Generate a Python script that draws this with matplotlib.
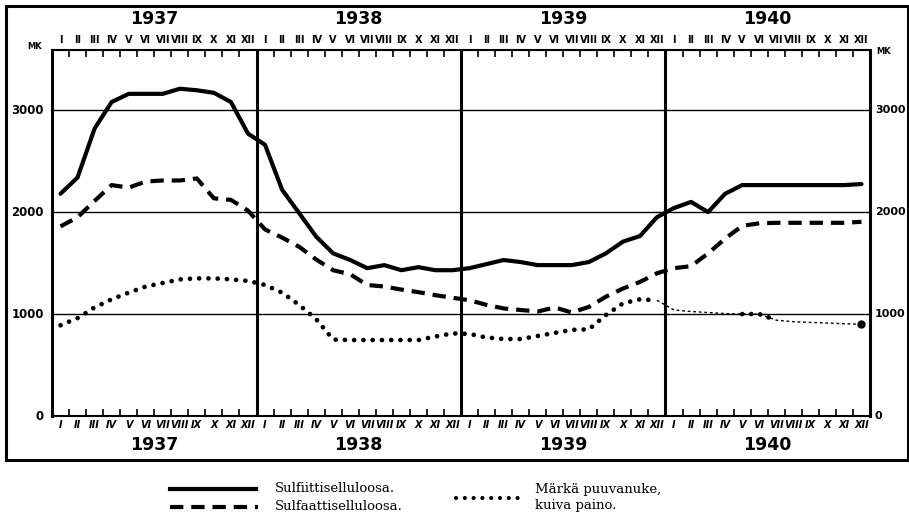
import matplotlib
matplotlib.use("Agg")
import matplotlib.pyplot as plt
import matplotlib.transforms as mtransforms
from matplotlib.lines import Line2D
from matplotlib.patches import Rectangle
import numpy as np

years = ["1937", "1938", "1939", "1940"]
month_labels = ["I", "II", "III", "IV", "V", "VI", "VII", "VIII", "IX", "X", "XI", "XII"]

# monthly prices, mk, Jan 1937 .. Dec 1940
sulfiitti = [2180, 2340, 2820, 3080, 3160, 3160, 3160, 3210, 3195, 3170, 3080, 2770,
             2660, 2220, 1990, 1760, 1595, 1530, 1450, 1480, 1430, 1460, 1430, 1430,
             1450, 1490, 1530, 1510, 1480, 1480, 1480, 1510, 1595, 1710, 1765, 1950,
             2040, 2100, 2000, 2180, 2265, 2265, 2265, 2265, 2265, 2265, 2265, 2275]
sulfaatti = [1860, 1950, 2110, 2265, 2240, 2300, 2310, 2310, 2330, 2135, 2120, 2015,
             1830, 1750, 1660, 1535, 1430, 1390, 1285, 1270, 1240, 1215, 1185, 1160,
             1135, 1090, 1055, 1040, 1025, 1065, 1015, 1070, 1170, 1250, 1315, 1400,
             1450, 1470, 1595, 1740, 1865, 1890, 1895, 1895, 1895, 1895, 1895, 1905]
puuvanuke = [890, 960, 1065, 1145, 1210, 1270, 1305, 1340, 1350, 1350, 1340, 1325,
             1285, 1210, 1090, 950, 750, 745, 745, 745, 745, 745, 780, 810,
             805, 770, 755, 755, 785, 815, 845, 850, 990, 1105, 1145, 1135,
             1040, 1025, 1015, 1005, 1000, 1000, 940, 925, 918, 912, 905, 900]

W, H = 909, 526
fig = plt.figure(figsize=(W / 100, H / 100), dpi=100)
ax = fig.add_axes([52 / W, 1 - 416 / H, (870 - 52) / W, (416 - 50) / H])

x = np.arange(48) + 0.5
ax.plot(x, sulfiitti, color="black", lw=3.0, solid_joinstyle="round", solid_capstyle="round")
ax.plot(x, sulfaatti, color="black", lw=3.0, linestyle=(0, (3.2, 1.9)), dash_capstyle="butt")
# thick dotted part up to Dec 1939, thin dotted line for 1940
ax.plot(x[:36], puuvanuke[:36], color="black", lw=3.4, linestyle=(0, (0.01, 1.95)),
        dash_capstyle="round")
ax.plot(x[35:], puuvanuke[35:], color="black", lw=1.0, linestyle=(0, (2, 2)))
ax.plot(x[40:43], puuvanuke[40:43], color="black", lw=3.4, linestyle=(0, (0.01, 1.9)),
        dash_capstyle="round")
ax.plot(x[47:], puuvanuke[47:], "o", color="black", ms=5)

ax.set_xlim(0, 48)
ax.set_ylim(0, 3590)
for v in [1000, 2000, 3000]:
    ax.axhline(v, color="black", lw=1.0, zorder=0)
for b in [12, 24, 36]:
    ax.axvline(b, color="black", lw=2.2)
for s in ["left", "right"]:
    ax.spines[s].set_linewidth(2.2)
ax.spines["bottom"].set_linewidth(1.5)
ax.spines["top"].set_linewidth(1.5)

ticks = [i for i in range(1, 48) if i % 12 != 0]
ax.set_xticks(ticks)
ax.tick_params(axis="x", which="both", direction="in", top=True, bottom=True,
               length=5, width=1.2, labelbottom=False, labeltop=False)
ax.set_yticks([])

roman_font = ["Liberation Sans Narrow", "DejaVu Sans"]
trans = mtransforms.blended_transform_factory(ax.transData, ax.transAxes)
for yi, year in enumerate(years):
    for m, lab in enumerate(month_labels):
        xm = yi * 12 + m + 0.5
        ax.text(xm, 1.015, lab, transform=trans, ha="center", va="bottom",
                fontsize=7, fontweight="bold", family=roman_font)
        ax.text(xm, -0.012, lab, transform=trans, ha="center", va="top",
                fontsize=7, fontweight="bold", family=roman_font, style="italic")
    ax.text(yi * 12 + 6, 1.06, year, transform=trans, ha="center", va="bottom",
            fontsize=12.5, fontweight="bold")
    ax.text(yi * 12 + 6, -0.055, year, transform=trans, ha="center", va="top",
            fontsize=12.5, fontweight="bold")

for v in [0, 1000, 2000, 3000]:
    ax.text(-0.01, v, str(v), transform=ax.get_yaxis_transform(), ha="right",
            va="center", fontsize=8.5, fontweight="bold")
    ax.text(1.006, v, str(v), transform=ax.get_yaxis_transform(), ha="left",
            va="center", fontsize=8, fontweight="bold")
ax.text(-0.012, 1.01, "MK", transform=ax.transAxes, ha="right", va="center",
        fontsize=6, fontweight="bold")
ax.text(1.008, 0.995, "MK", transform=ax.transAxes, ha="left", va="center",
        fontsize=6, fontweight="bold")

# outer frame
fig.patches.append(Rectangle((6 / W, 1 - 460 / H), 901.5 / W, 454 / H, fill=False,
                             lw=2.2, edgecolor="black", transform=fig.transFigure))

# legend
def fy(py):
    return 1 - py / H

fig.lines.append(Line2D([170 / W, 256 / W], [fy(489), fy(489)], color="black", lw=3.0,
                        transform=fig.transFigure))
fig.lines.append(Line2D([170 / W, 258 / W], [fy(507), fy(507)], color="black", lw=3.0,
                        linestyle=(0, (3.2, 1.9)), transform=fig.transFigure))
fig.lines.append(Line2D([456 / W, 522 / W], [fy(498), fy(498)], color="black", lw=3.0,
                        linestyle=(0, (0.01, 2.1)), dash_capstyle="round",
                        transform=fig.transFigure))
fig.text(275 / W, fy(489), "Sulfiittiselluloosa.", ha="left", va="center",
         fontsize=9.5, family="DejaVu Serif")
fig.text(275 / W, fy(507), "Sulfaattiselluloosa.", ha="left", va="center",
         fontsize=9.5, family="DejaVu Serif")
fig.text(535 / W, fy(490), "Märkä puuvanuke,", ha="left", va="center",
         fontsize=9.5, family="DejaVu Serif")
fig.text(535 / W, fy(505), "kuiva paino.", ha="left", va="center",
         fontsize=9.5, family="DejaVu Serif")

fig.savefig("out.png", dpi=100)
